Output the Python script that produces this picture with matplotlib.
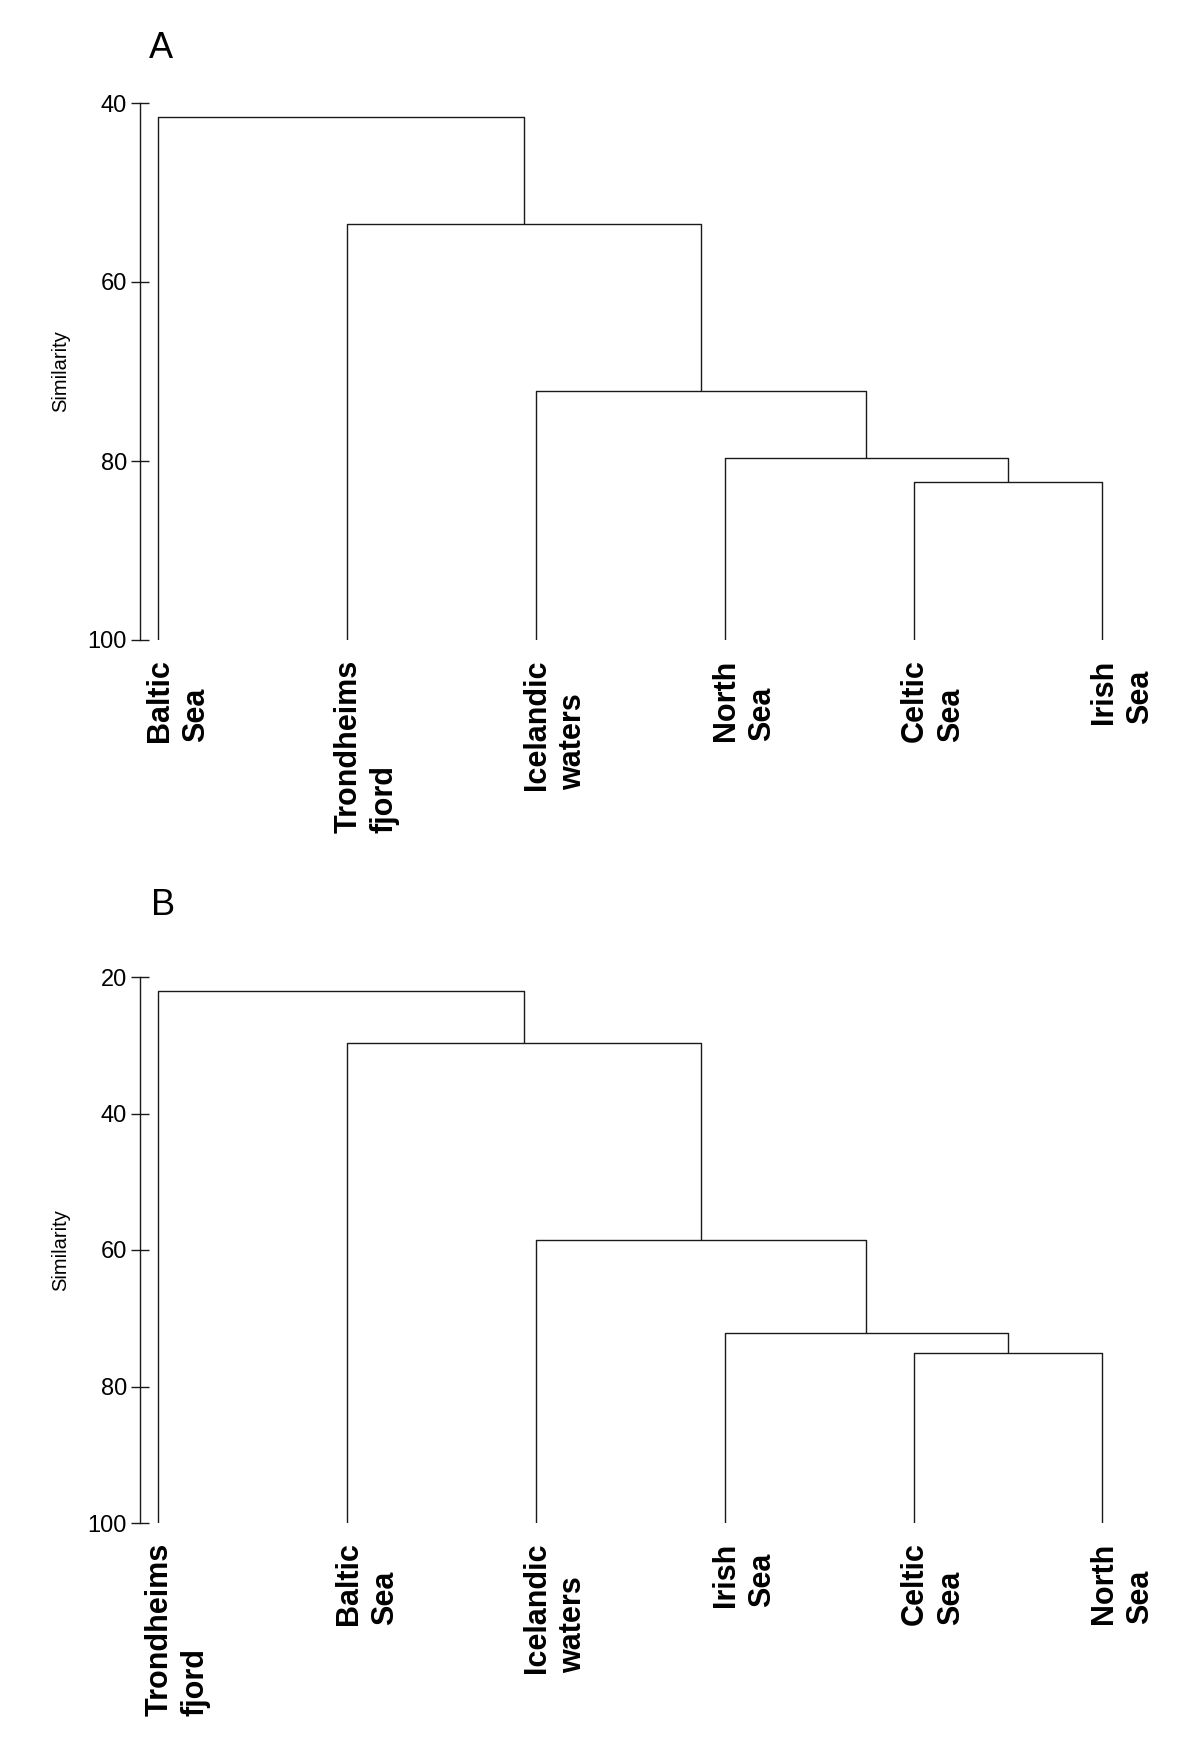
import matplotlib
matplotlib.use("Agg")
import matplotlib.pyplot as plt

plt.rcParams['font.family'] = ['Liberation Sans', 'DejaVu Sans']

# Panel A: leaf order and merges (left node, right node, similarity)
leaves_a = ["Baltic\nSea", "Trondheims\nfjord", "Icelandic\nwaters",
            "North\nSea", "Celtic\nSea", "Irish\nSea"]
merges_a = [(4, 5, 82.4), (3, 6, 79.7), (2, 7, 72.15), (1, 8, 53.55), (0, 9, 41.6)]
ticks_a = [40, 60, 80, 100]

# Panel B
leaves_b = ["Trondheims\nfjord", "Baltic\nSea", "Icelandic\nwaters",
            "Irish\nSea", "Celtic\nSea", "North\nSea"]
merges_b = [(4, 5, 75.1), (3, 6, 72.1), (2, 7, 58.5), (1, 8, 29.7), (0, 9, 22.1)]
ticks_b = [20, 40, 60, 80, 100]

LINE = '#1a1a1a'


def draw_dendro(ax, leaves, merges, ticks):
    bottom = ticks[-1]
    xs = list(range(len(leaves)))
    ys = [bottom] * len(leaves)
    for a, b, h in merges:
        ax.plot([xs[a], xs[a], xs[b], xs[b]], [ys[a], h, h, ys[b]],
                color=LINE, lw=1.0, solid_capstyle='butt')
        xs.append((xs[a] + xs[b]) / 2)
        ys.append(h)

    ax.set_xlim(-0.0975, 5.305)
    ax.set_ylim(bottom, ticks[0])
    ax.set_yticks(ticks)
    ax.set_xticks([])
    for s in ['top', 'right', 'bottom']:
        ax.spines[s].set_visible(False)
    ax.spines['left'].set_color(LINE)
    ax.spines['left'].set_linewidth(1.0)
    ax.tick_params(axis='y', direction='inout', length=13, width=1.0,
                   color=LINE, labelsize=17, pad=3)
    ax.set_ylabel("Similarity", fontsize=14.5)
    ax.yaxis.set_label_coords(-70 / 1020, 0.5)

    for i, name in enumerate(leaves):
        ax.annotate(name, xy=(i, bottom), xytext=(14, -14),
                    textcoords='offset points', rotation=90,
                    ha='center', va='top', multialignment='left',
                    fontsize=22, fontweight='bold', linespacing=1.27,
                    annotation_clip=False)


fig = plt.figure(figsize=(12, 17.55), dpi=100)

ax_a = fig.add_axes([140 / 1200, 1 - 640 / 1755, 1020 / 1200, 537 / 1755])
draw_dendro(ax_a, leaves_a, merges_a, ticks_a)

ax_b = fig.add_axes([140 / 1200, 1 - 1523 / 1755, 1020 / 1200, 546 / 1755])
draw_dendro(ax_b, leaves_b, merges_b, ticks_b)

fig.text(149 / 1200, 1 - 58 / 1755, "A", fontsize=26, ha='left', va='baseline')
fig.text(151 / 1200, 1 - 915 / 1755, "B", fontsize=26, ha='left', va='baseline')

fig.savefig("out.png", dpi=100, facecolor='white')
